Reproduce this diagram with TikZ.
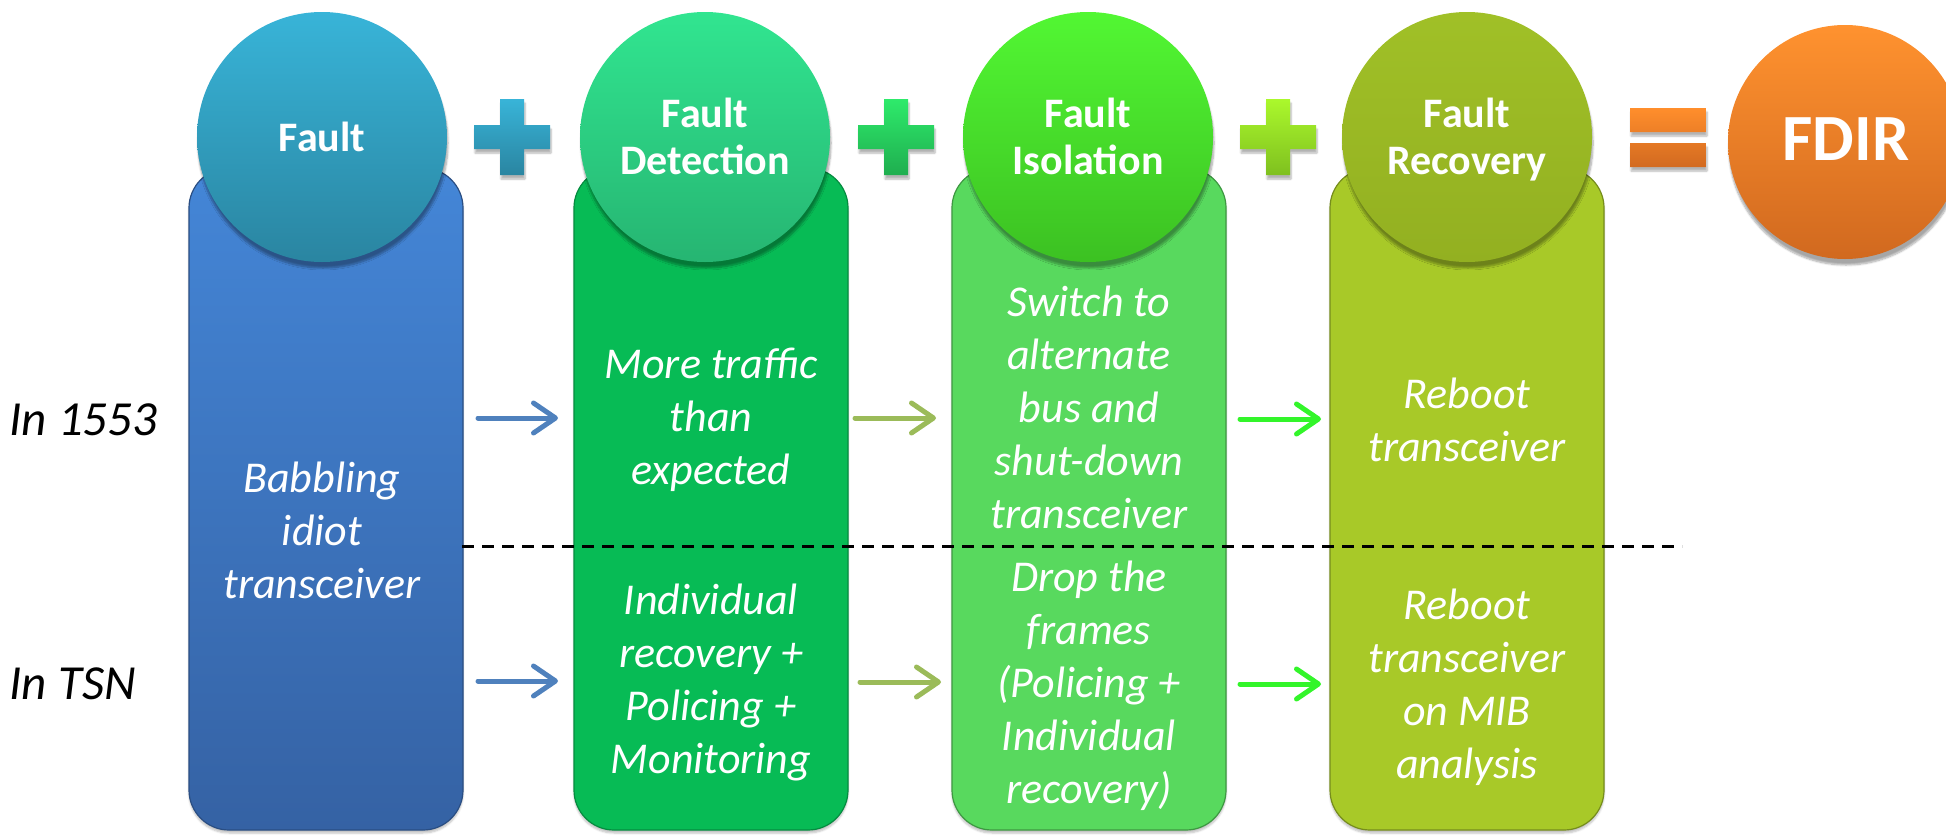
\documentclass[tikz,border=0pt]{standalone}
\usepackage{fontspec}
\setmainfont{Carlito}
\usetikzlibrary{arrows.meta,shadows.blur}

% column fills
\definecolor{faultBoxTop}{HTML}{4486D7}
\definecolor{faultBoxBot}{HTML}{3562A4}
\definecolor{detBox}{HTML}{07BB55}
\definecolor{isoBox}{HTML}{58D95E}
\definecolor{recBox}{HTML}{A8C928}
% heading discs
\definecolor{faultTop}{HTML}{38B4D8}
\definecolor{faultBot}{HTML}{2A85A1}
\definecolor{detTop}{HTML}{31E590}
\definecolor{detBot}{HTML}{26B572}
\definecolor{isoTop}{HTML}{52F733}
\definecolor{isoBot}{HTML}{3CC122}
\definecolor{recTop}{HTML}{A0C027}
\definecolor{recBot}{HTML}{93B021}
\definecolor{fdirTop}{HTML}{FF922F}
\definecolor{fdirBot}{HTML}{D1691F}
% operators
\definecolor{plusAtop}{HTML}{38B4D8}
\definecolor{plusAbot}{HTML}{2A85A1}
\definecolor{plusBtop}{HTML}{2EEA6B}
\definecolor{plusBbot}{HTML}{1FAE4F}
\definecolor{plusCtop}{HTML}{ABF82C}
\definecolor{plusCbot}{HTML}{7FC01F}
\definecolor{eqTop}{HTML}{FF8E2C}
\definecolor{eqBot}{HTML}{D26A20}
% flow arrows
\definecolor{arrBlue}{HTML}{4F81BD}
\definecolor{arrOlive}{HTML}{9BBB59}
\definecolor{arrGreen}{HTML}{33F52A}

% plus sign: centre x, centre y, colour prefix
\newcommand\plussign[3]{%
  \begin{scope}[shift={(#1,#2)}]
    \path[top color=#3top, bottom color=#3bot, opshadow]
      (-38,-12) -- (-12,-12) -- (-12,-38) -- (12,-38) -- (12,-12) -- (38,-12)
      -- (38,12) -- (12,12) -- (12,38) -- (-12,38) -- (-12,12) -- (-38,12) -- cycle;
  \end{scope}}

\begin{document}
\begin{tikzpicture}[x=1pt,y=-1pt,
  opshadow/.style={blur shadow={shadow xshift=1pt, shadow yshift=-4pt,
      shadow opacity=30, shadow blur steps=6}},
  column/.style={rectangle, rounded corners=40pt, minimum width=274pt,
      minimum height=662pt, inner sep=0pt, line width=1.2pt,
      blur shadow={shadow xshift=0pt, shadow yshift=-3pt, shadow opacity=25,
      shadow blur steps=5}},
  disc/.style={circle, minimum size=250pt, inner sep=0pt,
      blur shadow={shadow xshift=1pt, shadow yshift=-6pt, shadow opacity=35,
      shadow blur steps=8}},
  title/.style={text=white, align=center,
      font=\fontsize{42}{47}\selectfont\bfseries},
  note/.style={text=white, align=center,
      font=\fontsize{44}{53}\selectfont\itshape},
  rowlabel/.style={anchor=west, font=\fontsize{49}{59}\selectfont\itshape},
  flow/.style={line width=5pt, line cap=round,
      -{Straight Barb[length=22pt, width=30pt, round]}},
  divider/.style={line width=3pt, dash pattern=on 12pt off 8pt},
]
\useasboundingbox (0,0) rectangle (1946,835);
\clip (0,0) rectangle (1946,835);

% columns
\node[column, top color=faultBoxTop, bottom color=faultBoxBot,
      draw=faultBoxBot!80!black] (c1) at (326,499) {};
\node[column, fill=detBox, draw=detBox!75!black] (c2) at (711,499) {};
\node[column, fill=isoBox, draw=isoBox!70!black] (c3) at (1089,499) {};
\node[column, fill=recBox, draw=recBox!70!black] (c4) at (1467,499) {};

% separator between the two rows
\coordinate (sepL) at (462,546);
\coordinate (sepR) at (1682,546);
\draw[divider] (sepL) -- (sepR);

% heading discs
\node[disc, top color=faultTop, bottom color=faultBot] (h1) at (322,137) {};
\node[disc, top color=detTop, bottom color=detBot] (h2) at (705,137) {};
\node[disc, top color=isoTop, bottom color=isoBot] (h3) at (1088,137) {};
\node[disc, top color=recTop, bottom color=recBot] (h4) at (1467,137) {};
\node[circle, minimum size=234pt, inner sep=0pt, top color=fdirTop,
      bottom color=fdirBot, blur shadow={shadow xshift=1pt, shadow yshift=-6pt,
      shadow opacity=35, shadow blur steps=8}] (h5) at (1845,142) {};

\node[title] (t1) at (h1) {Fault};
\node[title] (t2) at (705,136) {Fault\\Detection};
\node[title] (t3) at (1088,136) {Fault\\Isolation};
\node[title] (t4) at (1467,140) {Fault\\Recovery};
\node[text=white, font=\fontsize{66}{70}\selectfont\bfseries] (t5) at (1846,139) {FDIR};

% operators
\plussign{512}{137}{plusA}
\plussign{896}{137}{plusB}
\plussign{1278}{137}{plusC}
\path[top color=eqTop, bottom color=eqBot, opshadow]
  (1630,108) rectangle (1706,132) (1630,143) rectangle (1706,167);

% row labels
\node[rowlabel] (r1) at (6,420) {In 1553};
\node[rowlabel] (r2) at (6,684) {In TSN};

% column texts
\node[note] (n1) at (322,530) {Babbling\\idiot\\transceiver};
\node[note] (n2a) at (711,420) {More traffic\\than\\expected};
\node[note] (n2b) at (711,682) {Individual\\recovery +\\Policing +\\Monitoring};
\node[note] (n3a) at (1089,407) {Switch to\\alternate\\bus and\\shut-down\\transceiver};
\node[note] (n3b) at (1089,686) {Drop the\\frames\\(Policing +\\Individual\\recovery)};
\node[note] (n4a) at (1467,420) {Reboot\\transceiver};
\node[note] (n4b) at (1467,687) {Reboot\\transceiver\\on MIB\\analysis};

% flow arrows between columns
\coordinate (a1s) at (478,418);  \coordinate (a1e) at (558,418);
\coordinate (a2s) at (478,681);  \coordinate (a2e) at (558,681);
\coordinate (a3s) at (855,418);  \coordinate (a3e) at (936,418);
\coordinate (a4s) at (860,682);  \coordinate (a4e) at (941,682);
\coordinate (a5s) at (1240,419); \coordinate (a5e) at (1321,419);
\coordinate (a6s) at (1240,684); \coordinate (a6e) at (1321,684);
\draw[flow, arrBlue] (a1s) -- (a1e);
\draw[flow, arrBlue] (a2s) -- (a2e);
\draw[flow, arrOlive] (a3s) -- (a3e);
\draw[flow, arrOlive] (a4s) -- (a4e);
\draw[flow, arrGreen] (a5s) -- (a5e);
\draw[flow, arrGreen] (a6s) -- (a6e);
\end{tikzpicture}
\end{document}
